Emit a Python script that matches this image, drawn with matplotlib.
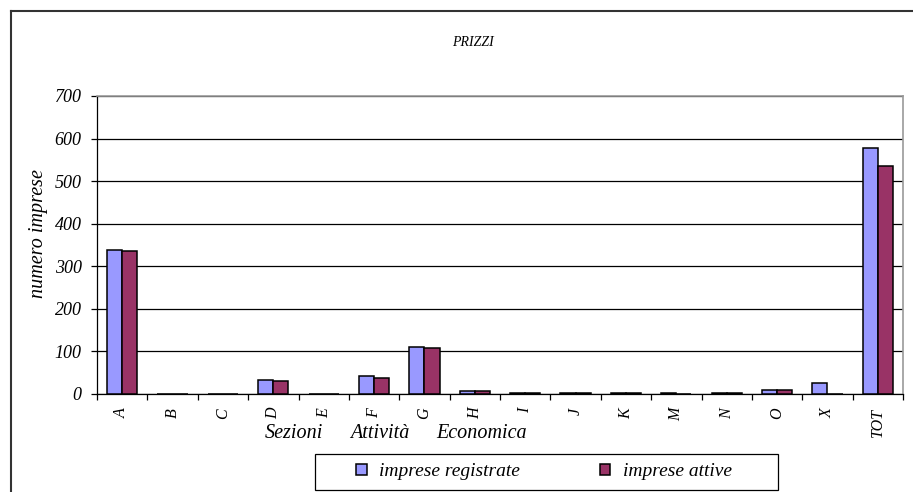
import matplotlib.pyplot as plt
from matplotlib.lines import Line2D
from matplotlib.patches import Rectangle
import numpy as np

categories = ['A', 'B', 'C', 'D', 'E', 'F', 'G', 'H', 'I', 'J', 'K', 'M', 'N', 'O', 'X', 'TOT']
registrate = [338, 0, 1, 34, 0, 43, 111, 6, 2, 2, 3, 2, 2, 10, 25, 577]
attive = [335, 0, 1, 30, 0, 38, 108, 6, 2, 2, 3, 1, 2, 10, 1, 535]

plt.rcParams['font.family'] = 'Liberation Serif'
plt.rcParams['font.style'] = 'italic'

fig = plt.figure(figsize=(9.13, 4.92), dpi=100)
W, H = 913.0, 492.0
ax = fig.add_axes([97 / W, 1 - 394 / H, 806 / W, 298 / H])

x = np.arange(len(categories))
bw = 0.3
b1 = ax.bar(x - bw / 2, registrate, bw, color='#9999FF', edgecolor='black', linewidth=1.1,
            label='imprese registrate', zorder=3)
b2 = ax.bar(x + bw / 2, attive, bw, color='#993366', edgecolor='black', linewidth=1.1,
            label='imprese attive', zorder=3)

ax.set_xlim(-0.5, len(categories) - 0.5)
ax.set_ylim(0, 700)
ax.set_yticks(range(0, 701, 100))
ax.yaxis.grid(True, color='black', linewidth=0.9, zorder=0)
ax.tick_params(axis='y', direction='out', length=4, width=0.9, labelsize=13, pad=7)

# category labels at the centre, tick marks on slot boundaries
ax.set_xticks(x)
ax.set_xticklabels(categories, rotation=90, fontsize=11.5)
ax.tick_params(axis='x', length=0, pad=10)
ax.set_xticks(np.arange(-0.5, len(categories), 1), minor=True)
ax.tick_params(axis='x', which='minor', direction='out', length=4, width=0.9)

for s in ['left', 'bottom']:
    ax.spines[s].set_color('black')
    ax.spines[s].set_linewidth(0.9)
for s in ['top', 'right']:
    ax.spines[s].set_color('#999999')
    ax.spines[s].set_linewidth(1.2)

fig.text(473 / W, 1 - 42 / H, 'PRIZZI', ha='center', va='center', fontsize=10)
fig.text(38 / W, 1 - 234 / H, 'numero imprese', rotation=90, ha='center', va='center', fontsize=14.5)
for word, cx in [('Sezioni', 294), ('Attività', 380), ('Economica', 482)]:
    fig.text(cx / W, 1 - 433 / H, word, ha='center', va='center', fontsize=14.5)

# legend box drawn separately, entries placed inside it
fig.add_artist(Rectangle((315 / W, 1 - 490 / H), 463 / W, 36 / H, transform=fig.transFigure,
                         facecolor='white', edgecolor='black', linewidth=0.9))
leg = fig.legend(handles=[b1, b2], loc='center', bbox_to_anchor=(544 / W, 1 - 472 / H),
                 ncol=2, fontsize=14, frameon=False, borderpad=0,
                 handlelength=0.55, handleheight=0.55, handletextpad=0.65, columnspacing=4.1,
                 borderaxespad=0)

# outer chart border
fig.add_artist(Line2D([11 / W, 11 / W], [0, 1 - 11 / H], color='#333333', linewidth=1.5))
fig.add_artist(Line2D([11 / W, 1], [1 - 11 / H, 1 - 11 / H], color='#333333', linewidth=1.5))

fig.savefig('out.png', dpi=100)
